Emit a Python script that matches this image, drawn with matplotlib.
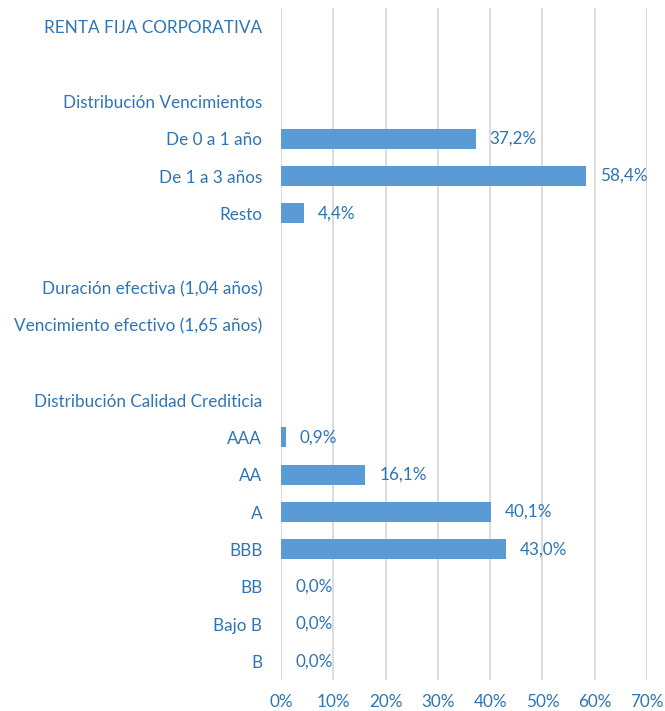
import matplotlib.pyplot as plt

# Categorías (de arriba a abajo) y valores en %
categorias = ["RENTA FIJA CORPORATIVA", "", "Distribución Vencimientos",
              "De 0 a 1 año", "De 1 a 3 años", "Resto", "",
              "Duración efectiva (1,04 años)", "Vencimiento efectivo (1,65 años)", "",
              "Distribución Calidad Crediticia",
              "AAA", "AA", "A", "BBB", "BB", "Bajo B", "B"]
valores = [None, None, None,
           37.2, 58.4, 4.4, None,
           None, None, None,
           None,
           0.9, 16.1, 40.1, 43.0, 0.0, 0.0, 0.0]
ticks = [0, 10, 20, 30, 40, 50, 60, 70]

azul_barra = "#5B9BD5"
azul_texto = "#2E75B6"
gris = "#D9D9D9"
fs = 12.3

plt.rcParams['font.family'] = ['Lato', 'DejaVu Sans']

fig = plt.figure(figsize=(6.65, 7.11), dpi=100)
ax = fig.add_axes([0.4226, 0.0436, 0.5504, 0.9451])

pos = list(range(len(categorias)))
for p, v in zip(pos, valores):
    if v is None:
        continue
    ax.barh(p, v, height=0.54, color=azul_barra, zorder=3)
    ax.text(v + 2.7, p, f"{v:.1f}%".replace(".", ","), va="center", ha="left",
            color=azul_texto, fontsize=fs)

ax.set_ylim(len(categorias) - 0.5, -0.5)
ax.set_xlim(0, 70)
ax.set_yticks(pos)
ax.set_yticklabels(categorias, color=azul_texto, fontsize=fs)
ax.set_xticks(ticks)
ax.set_xticklabels([f"{t}%" for t in ticks], color=azul_texto, fontsize=fs)
ax.tick_params(length=0, pad=13.5, axis="y")
ax.tick_params(length=0, pad=10, axis="x")
ax.grid(axis="x", color=gris, linewidth=1.3, zorder=0)
for s in ax.spines.values():
    s.set_visible(False)

plt.savefig("out.png", dpi=100)
